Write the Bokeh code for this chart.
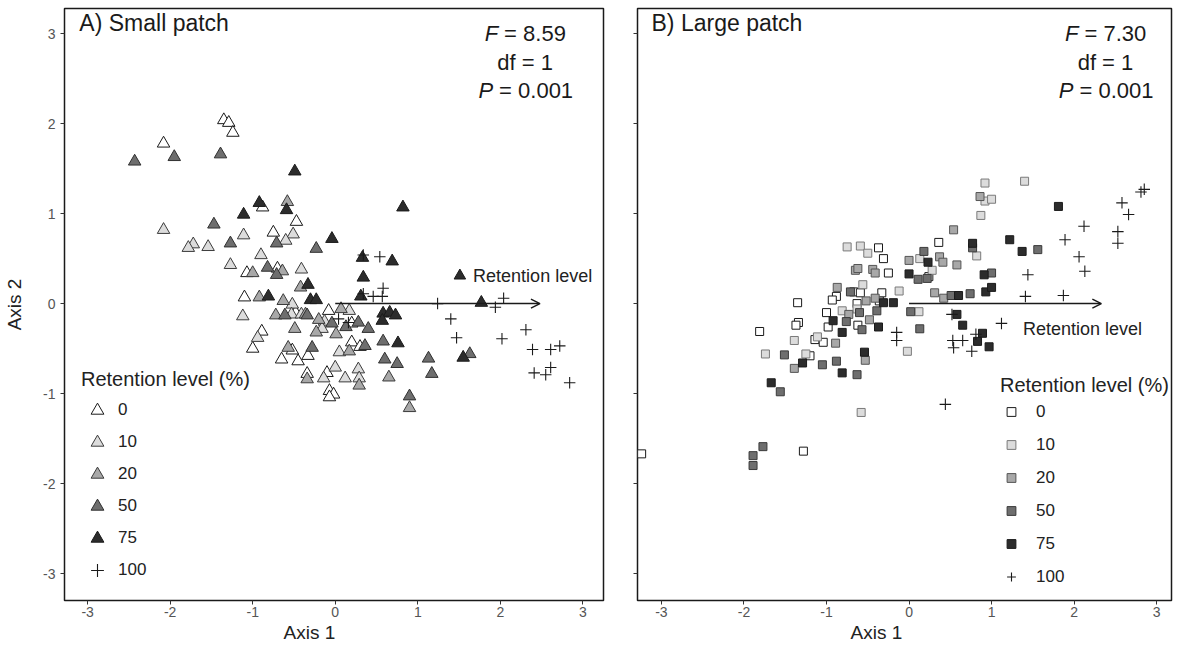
from bokeh.plotting import figure
from bokeh.layouts import row
from bokeh.models import Legend, LegendItem, Arrow, OpenHead, Label, FixedTicker, Range1d, Title
from bokeh.embed import file_html
from bokeh.resources import INLINE

FONT = "Liberation Sans"
levels = ["0", "10", "20", "50", "75", "100"]
ticks = [-3, -2, -1, 0, 1, 2, 3]
tick_labels = ["-3", "-2", "-1", "0", "1", "2", "3"]

# ---------------- Panel A: small patch (triangles) ----------------
a0_x = [-1.35, -1.29, -1.24, -2.08, -0.88, -0.47, -0.75, -0.70, -1.07, -1.10, -0.48, -0.08, 0.20,
        -1.00, -0.52, -0.33, -0.65, -0.45, 0.20, 0.30, -0.10, -0.34, -0.07, -0.02, -0.07, -0.89]
a0_y = [2.04, 2.01, 1.90, 1.78, 1.07, 0.91, 0.79, 0.39, 0.34, 0.07, -0.10, -0.08, -0.22,
        -0.50, -0.52, -0.58, -0.62, -0.64, -0.43, -0.48, -0.77, -0.78, -0.97, -1.01, -1.04, -0.31]
a10_x = [-2.08, -1.11, -0.51, -0.60, -1.72, -1.78, -1.54, -0.90, -1.27, -0.41, -0.52, -1.12,
         -0.53, -0.41, 0.17, -0.13, -0.16, -0.94, 0.05, 0.00, 0.28, -0.14, 0.12, 0.29]
a10_y = [0.82, 0.76, 0.77, 0.70, 0.66, 0.62, 0.63, 0.54, 0.43, 0.38, -0.01, -0.14,
         -0.12, -0.12, -0.08, -0.20, -0.28, -0.38, -0.54, -0.71, -0.73, -0.83, -0.83, -0.83]
a20_x = [-0.58, -1.00, -0.64, -0.42, -0.92, -0.63, -0.72, -0.36, 0.07, -0.20, -0.49, -0.23,
         0.01, -0.57, 0.17, -0.34, 0.29, 0.65, 0.90]
a20_y = [1.13, 0.34, 0.36, 0.18, 0.07, 0.03, -0.13, -0.12, -0.06, -0.18, -0.28, -0.32,
         -0.34, -0.49, -0.53, -0.84, -0.91, -0.82, -1.16]
a50_x = [-2.43, -1.95, -1.39, -1.47, -0.71, -0.23, -1.27, -0.82, -0.71, -0.61, -0.34, -0.04,
         0.13, 0.28, 0.40, -0.28, 0.36, 0.58, 0.60, 0.75, 1.13, 1.17, 1.63, 0.90]
a50_y = [1.58, 1.63, 1.66, 0.88, 0.67, 0.61, 0.67, 0.40, 0.32, -0.13, -0.13, -0.22,
         -0.26, -0.21, -0.28, -0.49, -0.47, -0.42, -0.62, -0.67, -0.61, -0.78, -0.56, -1.03]
a75_x = [-0.49, -0.92, -0.59, -1.11, -0.04, -0.33, -0.81, -0.30, -0.23, 0.82, 0.33, 0.69,
         0.34, 0.31, 0.58, 0.66, 0.73, 0.57, 0.76, 1.55, 1.77]
a75_y = [1.47, 1.12, 1.04, 0.99, 0.72, 0.21, 0.08, 0.04, 0.04, 1.07, 0.51, 0.47,
         0.29, 0.08, -0.11, -0.10, -0.13, -0.19, -0.44, -0.60, 0.01]
a100_x = [0.34, 0.54, 0.34, 0.46, 0.57, 0.58, 0.04, 0.16, 1.24, 2.04, 1.94, 1.40, 1.47,
          2.02, 2.31, 2.39, 2.61, 2.72, 2.41, 2.55, 2.61, 2.84]
a100_y = [0.54, 0.52, 0.11, 0.08, 0.08, 0.17, -0.17, -0.21, 0.00, 0.06, -0.04, -0.17, -0.38,
          -0.39, -0.29, -0.51, -0.51, -0.47, -0.77, -0.79, -0.71, -0.88]
a_arrow = [2.48, 0.0]
a_stats = ["8.59", "1", "0.001"]

# ---------------- Panel B: large patch (squares) ----------------
b0_x = [-3.24, -1.28, -1.81, -1.35, -1.34, -1.37, -1.14, -1.04, -1.20, -1.00, -0.98, -0.62,
        -0.63, -0.88, -0.93, -0.67, -0.59, -0.36, -0.33, -0.25, -0.37, -0.31, 0.36, 0.24]
b0_y = [-1.67, -1.64, -0.31, 0.01, -0.21, -0.24, -0.40, -0.43, -0.58, -0.10, -0.26, -0.24,
        0.00, 0.08, 0.04, 0.13, 0.12, 0.03, 0.12, 0.34, 0.62, 0.50, 0.68, 0.30]
b10_x = [-0.58, -1.74, -1.11, -1.25, -1.39, -0.81, -0.56, -0.12, -0.75, -0.59, -0.50, -0.63,
         0.92, 1.40, 0.92, 1.00, 0.87, 0.82, 0.13, 0.28, 0.12, -0.02]
b10_y = [-1.21, -0.56, -0.37, -0.56, -0.41, -0.08, 0.21, 0.14, 0.63, 0.64, 0.56, -0.06,
         1.34, 1.36, 1.14, 1.16, 0.98, 0.53, 0.50, 0.37, -0.09, -0.53]
b20_x = [-1.39, -0.89, -0.53, -0.48, -0.73, -0.87, -0.41, -0.52, -0.65, -0.62, -0.44, -0.41,
         0.00, 0.86, 0.54, 0.37, 0.41, 0.58, 0.31, 0.42]
b20_y = [-0.72, -0.44, -0.63, -0.18, -0.12, 0.18, 0.06, 0.03, 0.37, 0.39, 0.38, 0.34,
         0.48, 1.19, 0.82, 0.52, 0.46, 0.43, 0.12, 0.06]
b50_x = [-1.77, -1.89, -1.89, -1.56, -1.51, -1.05, -0.88, -0.63, -0.76, -0.57, -0.60, -0.39,
         -0.71, 0.02, 0.13, 0.77, 1.56, 0.18, 0.11, 0.22, 1.00, 0.51, 0.74]
b50_y = [-1.59, -1.69, -1.80, -0.98, -0.57, -0.68, -0.64, -0.79, -0.20, -0.29, -0.10, -0.08,
         0.13, -0.09, -0.28, 0.62, 0.60, 0.58, 0.27, 0.28, 0.34, 0.09, 0.11]
b75_x = [-1.67, -1.29, -0.81, -0.54, -0.92, -0.81, -0.37, -0.31, -0.19, 0.00, 1.81, 0.77,
         1.22, 1.37, 0.23, 0.91, 0.93, 1.00, 0.60, 0.58, 0.65, 0.89, 0.83, 0.97]
b75_y = [-0.88, -0.66, -0.77, -0.54, -0.19, -0.32, -0.26, 0.01, 0.01, 0.33, 1.08, 0.67,
         0.71, 0.58, 0.46, 0.32, 0.13, 0.18, 0.09, -0.12, -0.24, -0.33, -0.42, -0.48]
b100_x = [-0.15, -0.15, 0.52, 0.53, 0.65, 0.54, 0.76, 0.81, 1.12, 1.41, 1.44, 1.87, 1.89,
          2.12, 2.06, 2.13, 2.53, 2.53, 2.58, 2.66, 2.81, 2.85, 0.44]
b100_y = [-0.32, -0.41, -0.12, -0.41, -0.41, -0.49, -0.53, -0.34, -0.22, 0.08, 0.32, 0.09, 0.71,
          0.86, 0.52, 0.36, 0.80, 0.67, 1.12, 0.99, 1.24, 1.27, -1.12]
b_arrow = [2.33, 0.0]
b_stats = ["7.30", "1", "0.001"]

fills = ["#ffffff", "#dcdcdc", "#a8a8a8", "#6e6e6e", "#2c2c2c", None]
tri_lines = ["#1a1a1a", "#3c3c3c", "#3a3a3a", "#303030", "#1a1a1a", "#1a1a1a"]
sq_lines = ["#1a1a1a", "#7a7a7a", "#555555", "#3a3a3a", "#1a1a1a", "#1a1a1a"]

Y_RANGE = (-3.30, 3.28)


def base_fig(x_rng, width, min_left, min_right, show_ylab):
    p = figure(width=width, height=644, x_range=Range1d(*x_rng), y_range=Range1d(*Y_RANGE),
               min_border_left=min_left, min_border_right=min_right, min_border_top=8,
               min_border_bottom=44, output_backend="svg", toolbar_location=None)
    p.outline_line_color = "#1a1a1a"
    p.outline_line_width = 1.5
    p.grid.visible = False
    p.background_fill_color = "white"
    p.border_fill_color = "white"
    for ax in (p.xaxis[0], p.yaxis[0]):
        ax.ticker = FixedTicker(ticks=ticks)
        ax.axis_line_color = None
        ax.major_tick_out = 4
        ax.major_tick_in = 0
        ax.minor_tick_line_color = None
        ax.major_tick_line_color = "#333333"
        ax.major_label_text_font = FONT
        ax.major_label_text_font_size = "14px"
        ax.major_label_text_color = "#555555"
        ax.major_label_overrides = {t: l for t, l in zip(ticks, tick_labels)}
        ax.axis_label_text_font = FONT
        ax.axis_label_text_font_size = "19px"
        ax.axis_label_text_font_style = "normal"
        ax.axis_label_text_color = "#222222"
    p.xaxis.major_label_standoff = 2
    if show_ylab:
        p.yaxis.axis_label = "Axis 2"
        p.yaxis.major_label_standoff = 5
        p.yaxis.axis_label_standoff = 15
    else:
        p.yaxis.major_label_overrides = {t: "" for t in ticks}
        p.yaxis.major_label_standoff = 0
    return p


def add_xlabel(p, offset):
    p.add_layout(Title(text="Axis 1", align="left", offset=offset, standoff=0,
                       text_font=FONT, text_font_size="19px", text_font_style="normal",
                       text_color="#222222"), "below")


def add_series(p, xs, ys, marker, size, lines):
    rs = []
    for i, (x, y) in enumerate(zip(xs, ys)):
        if i == 5:
            r = p.scatter(x, y, marker="cross", size=11.5, line_color="#1a1a1a", line_width=1.1)
        else:
            r = p.scatter(x, y, marker=marker, size=size, fill_color=fills[i],
                          line_color=lines[i], line_width=1)
        rs.append(r)
    return rs


def add_legend(p, rs, loc, gw, gh, spacing, standoff):
    leg = Legend(items=[LegendItem(label=l, renderers=[r]) for l, r in zip(levels, rs)],
                 title="Retention level (%)", location=loc, orientation="vertical",
                 glyph_width=gw, glyph_height=gh, spacing=spacing, padding=0, margin=0,
                 label_standoff=standoff, label_height=20,
                 label_text_font=FONT, label_text_font_size="17px", label_text_color="#222222",
                 title_text_font=FONT, title_text_font_size="20px", title_text_font_style="normal",
                 title_text_color="#222222", title_standoff=3,
                 border_line_color=None, background_fill_alpha=0)
    p.add_layout(leg)


def add_stats(p, cx, stats):
    ys = [3.0, 2.68, 2.37]
    kw = dict(text_font=FONT, text_font_size="22px", text_color="#1a1a1a", text_baseline="middle")
    p.add_layout(Label(x=cx, y=ys[0], x_offset=-27, text="F", text_align="right",
                       text_font_style="italic", **kw))
    p.add_layout(Label(x=cx, y=ys[0], x_offset=-21, text="= " + stats[0], text_align="left", **kw))
    p.add_layout(Label(x=cx, y=ys[1], text="df = " + stats[1], text_align="center", **kw))
    p.add_layout(Label(x=cx, y=ys[2], x_offset=-32, text="P", text_align="right",
                       text_font_style="italic", **kw))
    p.add_layout(Label(x=cx, y=ys[2], x_offset=-26, text="= " + stats[2], text_align="left", **kw))


# ---- Panel A ----
pa = base_fig((-3.28, 3.25), 613, 64, 10, True)
ra = add_series(pa, [a0_x, a10_x, a20_x, a50_x, a75_x, a100_x],
                [a0_y, a10_y, a20_y, a50_y, a75_y, a100_y], "triangle", 12.5, tri_lines)
pa.add_layout(Arrow(end=OpenHead(size=9, line_width=1.5, line_color="#1a1a1a"),
                    x_start=0, y_start=0, x_end=a_arrow[0], y_end=a_arrow[1],
                    line_width=1.5, line_color="#1a1a1a"))
pa.scatter([1.51], [0.31], marker="triangle", size=11.5, fill_color="#2c2c2c", line_color="#1a1a1a")
pa.add_layout(Label(x=1.67, y=0.31, text="Retention level", text_font=FONT, text_font_size="18px",
                    text_baseline="middle", text_color="#222222"))
pa.add_layout(Label(x=-3.10, y=3.12, text="A) Small patch", text_font=FONT, text_font_size="23px",
                    text_baseline="middle", text_color="#1a1a1a"))
add_stats(pa, 2.30, a_stats)
add_legend(pa, ra, (17, 14), 32, 32, 0, 5)
add_xlabel(pa, 219)

# ---- Panel B ----
pb = base_fig((-3.29, 3.18), 566, 24, 8, False)
rb = add_series(pb, [b0_x, b10_x, b20_x, b50_x, b75_x, b100_x],
                [b0_y, b10_y, b20_y, b50_y, b75_y, b100_y], "square", 8, sq_lines)
pb.add_layout(Arrow(end=OpenHead(size=9, line_width=1.5, line_color="#1a1a1a"),
                    x_start=0, y_start=0, x_end=b_arrow[0], y_end=b_arrow[1],
                    line_width=1.5, line_color="#1a1a1a"))
pb.add_layout(Label(x=1.38, y=-0.28, text="Retention level", text_font=FONT, text_font_size="18px",
                    text_baseline="middle", text_color="#222222"))
pb.add_layout(Label(x=-3.12, y=3.12, text="B) Large patch", text_font=FONT, text_font_size="23px",
                    text_baseline="middle", text_color="#1a1a1a"))
add_stats(pb, 2.38, b_stats)
add_legend(pb, rb, (363, 12), 22, 23, 10, 14)
add_xlabel(pb, 213)

layout = row(pa, pb)
open("out.html", "w").write(file_html(layout, INLINE))
